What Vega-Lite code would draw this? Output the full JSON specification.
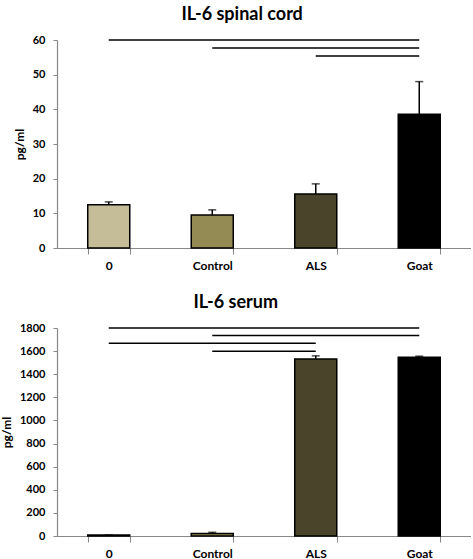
{
  "$schema": "https://vega.github.io/schema/vega-lite/v6.json",
  "padding": {"left": 0, "top": 6, "right": 0, "bottom": 0},
  "background": "white",
  "spacing": 23,
  "config": {
    "view": {"stroke": null},
    "font": "Lato",
    "title": {"font": "Lato", "fontSize": 18, "fontWeight": "bold", "color": "black", "anchor": "middle", "frame": "bounds", "offset": 10},
    "axis": {"labelFont": "Lato", "labelFontSize": 11, "labelFontWeight": "bold", "labelColor": "black", "titleFont": "Lato", "titleFontSize": 12, "titleFontWeight": "bold", "titleColor": "black", "domainColor": "#888888", "tickColor": "#888888", "grid": false, "domainWidth": 1.2, "tickWidth": 1}
  },
  "datasets": {
    "cord": [
      {"group": "0", "mean": 12.5, "upper": 13.3},
      {"group": "Control", "mean": 9.5, "upper": 11.0},
      {"group": "ALS", "mean": 15.6, "upper": 18.5},
      {"group": "Goat", "mean": 38.6, "upper": 48.0}
    ],
    "cordSig": [
      {"from": "0", "to": "Goat", "level": 60},
      {"from": "Control", "to": "Goat", "level": 57.7},
      {"from": "ALS", "to": "Goat", "level": 55.4}
    ],
    "serum": [
      {"group": "0", "mean": 8, "upper": 8},
      {"group": "Control", "mean": 22, "upper": 32},
      {"group": "ALS", "mean": 1532, "upper": 1559},
      {"group": "Goat", "mean": 1547, "upper": 1556}
    ],
    "serumSig": [
      {"from": "0", "to": "Goat", "level": 1800},
      {"from": "Control", "to": "Goat", "level": 1735},
      {"from": "0", "to": "ALS", "level": 1668},
      {"from": "Control", "to": "ALS", "level": 1599}
    ]
  },
  "vconcat": [
    {
      "title": "IL-6 spinal cord",
      "width": 414,
      "height": 208,
      "layer": [
        {
          "data": {"name": "cord"},
          "mark": {"type": "bar", "stroke": "black", "strokeWidth": 1.5},
          "encoding": {
            "x": {"field": "group", "type": "nominal",
              "scale": {"domain": ["0", "Control", "ALS", "Goat"], "paddingInner": 0.594, "paddingOuter": 0.297},
              "axis": {"title": null, "labelAngle": 0, "tickBand": "extent", "tickSize": 6, "labelPadding": 6, "labelFontSize": 12}},
            "y": {"field": "mean", "type": "quantitative",
              "scale": {"domain": [0, 60], "nice": false},
              "axis": {"title": "pg/ml", "values": [0, 10, 20, 30, 40, 50, 60], "format": "d", "tickSize": 4, "labelPadding": 8, "titlePadding": 6, "labelOverlap": false}},
            "color": {"field": "group", "type": "nominal",
              "scale": {"domain": ["0", "Control", "ALS", "Goat"], "range": ["#C4BD97", "#948A54", "#4A452A", "#000000"]},
              "legend": null}
          }
        },
        {
          "data": {"name": "cord"},
          "mark": {"type": "rule", "stroke": "black", "strokeWidth": 1.5},
          "encoding": {
            "x": {"field": "group", "type": "nominal"},
            "y": {"field": "mean", "type": "quantitative",
              "axis": {"title": "pg/ml", "values": [0, 10, 20, 30, 40, 50, 60], "format": "d", "tickSize": 4, "labelPadding": 8, "titlePadding": 6, "labelOverlap": false}},
            "y2": {"field": "upper"}
          }
        },
        {
          "data": {"name": "cord"},
          "mark": {"type": "tick", "color": "black", "size": 8, "thickness": 1.5, "orient": "horizontal"},
          "encoding": {
            "x": {"field": "group", "type": "nominal"},
            "y": {"field": "upper", "type": "quantitative",
              "axis": {"title": "pg/ml", "values": [0, 10, 20, 30, 40, 50, 60], "format": "d", "tickSize": 4, "labelPadding": 8, "titlePadding": 6, "labelOverlap": false}}
          }
        },
        {
          "data": {"name": "cordSig"},
          "mark": {"type": "rule", "stroke": "black", "strokeWidth": 1.5},
          "encoding": {
            "x": {"field": "from", "type": "nominal"},
            "x2": {"field": "to"},
            "y": {"field": "level", "type": "quantitative",
              "axis": {"title": "pg/ml", "values": [0, 10, 20, 30, 40, 50, 60], "format": "d", "tickSize": 4, "labelPadding": 8, "titlePadding": 6, "labelOverlap": false}}
          }
        }
      ]
    },
    {
      "title": "IL-6 serum",
      "width": 414,
      "height": 208,
      "layer": [
        {
          "data": {"name": "serum"},
          "mark": {"type": "bar", "stroke": "black", "strokeWidth": 1.5},
          "encoding": {
            "x": {"field": "group", "type": "nominal",
              "scale": {"domain": ["0", "Control", "ALS", "Goat"], "paddingInner": 0.594, "paddingOuter": 0.297},
              "axis": {"title": null, "labelAngle": 0, "tickBand": "extent", "tickSize": 6, "labelPadding": 6, "labelFontSize": 12}},
            "y": {"field": "mean", "type": "quantitative",
              "scale": {"domain": [0, 1800], "nice": false},
              "axis": {"title": "pg/ml", "values": [0, 200, 400, 600, 800, 1000, 1200, 1400, 1600, 1800], "format": "d", "tickSize": 4, "labelPadding": 8, "titlePadding": 6, "labelOverlap": false}},
            "color": {"field": "group", "type": "nominal",
              "scale": {"domain": ["0", "Control", "ALS", "Goat"], "range": ["#C4BD97", "#948A54", "#4A452A", "#000000"]},
              "legend": null}
          }
        },
        {
          "data": {"name": "serum"},
          "mark": {"type": "rule", "stroke": "black", "strokeWidth": 1.5},
          "encoding": {
            "x": {"field": "group", "type": "nominal"},
            "y": {"field": "mean", "type": "quantitative",
              "axis": {"title": "pg/ml", "values": [0, 200, 400, 600, 800, 1000, 1200, 1400, 1600, 1800], "format": "d", "tickSize": 4, "labelPadding": 8, "titlePadding": 6, "labelOverlap": false}},
            "y2": {"field": "upper"}
          }
        },
        {
          "data": {"name": "serum"},
          "mark": {"type": "tick", "color": "black", "size": 8, "thickness": 1.5, "orient": "horizontal"},
          "encoding": {
            "x": {"field": "group", "type": "nominal"},
            "y": {"field": "upper", "type": "quantitative",
              "axis": {"title": "pg/ml", "values": [0, 200, 400, 600, 800, 1000, 1200, 1400, 1600, 1800], "format": "d", "tickSize": 4, "labelPadding": 8, "titlePadding": 6, "labelOverlap": false}}
          }
        },
        {
          "data": {"name": "serumSig"},
          "mark": {"type": "rule", "stroke": "black", "strokeWidth": 1.5},
          "encoding": {
            "x": {"field": "from", "type": "nominal"},
            "x2": {"field": "to"},
            "y": {"field": "level", "type": "quantitative",
              "axis": {"title": "pg/ml", "values": [0, 200, 400, 600, 800, 1000, 1200, 1400, 1600, 1800], "format": "d", "tickSize": 4, "labelPadding": 8, "titlePadding": 6, "labelOverlap": false}}
          }
        }
      ]
    }
  ]
}
